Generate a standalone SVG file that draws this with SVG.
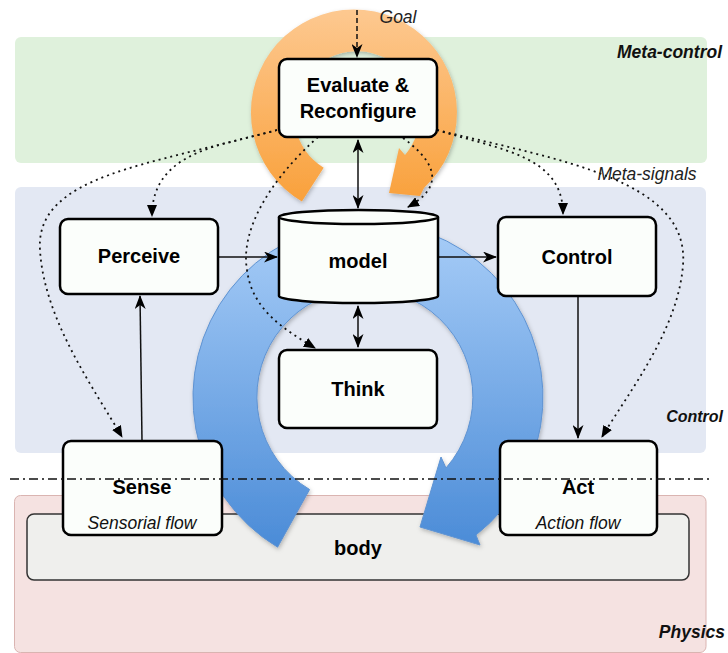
<svg xmlns="http://www.w3.org/2000/svg" width="728" height="653" viewBox="0 0 728 653">
<style>
.zone-label{font-family:"Liberation Sans",Arial,sans-serif;font-weight:bold;font-style:italic;fill:#111;text-anchor:end}
.node rect,.node path.cyl,.node ellipse{fill:#fbfefb;stroke:#000;stroke-width:2.5}
.lbl{font-family:"Liberation Sans",Arial,sans-serif;font-weight:bold;font-size:20px;fill:#000;text-anchor:middle}
.sub{font-family:"Liberation Sans",Arial,sans-serif;font-style:italic;font-size:17.5px;fill:#111;text-anchor:middle}
.solid{fill:none;stroke:#111;stroke-width:1.5}
.dotted{fill:none;stroke:#111;stroke-width:1.8;stroke-dasharray:2 4}
.dashed{fill:none;stroke:#111;stroke-width:1.5;stroke-dasharray:5 3}
.it{font-family:"Liberation Sans",Arial,sans-serif;font-style:italic;font-size:17.5px;fill:#222}
</style>
<defs>
<linearGradient id="gOrange" gradientUnits="userSpaceOnUse" x1="0" y1="12" x2="0" y2="205">
<stop offset="0" stop-color="#fdc88f"/>
<stop offset="1" stop-color="#f9a03a"/>
</linearGradient>
<linearGradient id="gBlue" gradientUnits="userSpaceOnUse" x1="0" y1="220" x2="0" y2="550">
<stop offset="0" stop-color="#a9cef8"/>
<stop offset="1" stop-color="#4a8bd7"/>
</linearGradient>
<filter id="shadow" x="-10%" y="-10%" width="120%" height="120%">
<feDropShadow dx="1" dy="2" stdDeviation="2" flood-color="#000" flood-opacity="0.25"/>
</filter>
<marker id="classic" viewBox="0 0 14 11" refX="13" refY="5.5" markerWidth="14" markerHeight="11" markerUnits="userSpaceOnUse" orient="auto-start-reverse">
<path d="M0,0 L14,5.5 L0,11 L4,5.5 Z" fill="#000"/>
</marker>
<marker id="block" viewBox="0 0 12 10" refX="11" refY="5" markerWidth="12" markerHeight="10" markerUnits="userSpaceOnUse" orient="auto">
<path d="M0,0 L12,5 L0,10 Z" fill="#000"/>
</marker>
</defs>
<rect x="0" y="0" width="728" height="653" fill="#fff"/>

<g id="zones">
<rect x="15" y="37" width="692" height="126" rx="6" fill="#dff1dc"/>
<rect x="15" y="187" width="691" height="266" rx="6" fill="#e3e8f3"/>
<rect x="14.5" y="495.5" width="691.5" height="157" rx="6" fill="#f5e2e1" stroke="#dab4b1" stroke-width="1"/>
<text class="zone-label" x="722" y="58" font-size="17.5">Meta-control</text>
<text class="zone-label" x="723" y="422" font-size="16">Control</text>
<text class="zone-label" x="725" y="638" font-size="17.5">Physics</text>
</g>

<g id="body" class="node">
<rect x="27" y="514" width="662" height="66" rx="7" style="fill:#efefed;stroke:#333;stroke-width:1.5"/>
<text class="lbl" x="358" y="555">body</text>
</g>

<g id="loops">
<path id="blue-loop" d="M277.6,547.2 A175,175 0 1 1 476,535 L480,545 L420,527 L441,457 L446,468 A108,108 0 1 0 309.6,489.5 Z" fill="url(#gBlue)" stroke="#5f93d2" stroke-width="1" filter="url(#shadow)"/>
<path id="orange-loop" d="M301.9,201.4 A103,103 0 1 1 424,188 L420,196 L389,193 L399,148 L405,155 A63,63 0 1 0 323.7,167.8 Z" fill="url(#gOrange)" filter="url(#shadow)"/>
</g>

<g id="connectors">
<path class="dashed" d="M357,10 L357,57" marker-end="url(#classic)"/>
<path class="solid" d="M358,140 L358,208" marker-start="url(#classic)" marker-end="url(#classic)"/>
<path class="solid" d="M358,306 L358,347" marker-start="url(#classic)" marker-end="url(#classic)"/>
<path class="solid" d="M218,257 L277,257" marker-end="url(#classic)"/>
<path class="solid" d="M438,257 L496,257" marker-end="url(#classic)"/>
<path class="solid" d="M142,441 L140,296" marker-end="url(#classic)"/>
<path class="solid" d="M578,296 L578,438" marker-end="url(#classic)"/>
<path class="dotted" d="M277,130 C225,145 152,150 152,216" marker-end="url(#block)"/>
<path class="dotted" d="M277,130 C150,165 35,175 40,250 C44,320 95,390 122,437" marker-end="url(#block)"/>
<path class="dotted" d="M318,137 C270,180 240,230 247,270 C252,310 285,330 315,348" marker-end="url(#block)"/>
<path class="dotted" d="M437,130 C500,150 563,155 563,214" marker-end="url(#block)"/>
<path class="dotted" d="M437,130 C560,160 690,180 683,265 C678,330 630,390 602,437" marker-end="url(#block)"/>
<path class="dotted" d="M403,138 C440,165 442,188 408,207" marker-end="url(#block)"/>
</g>

<g id="evaluate" class="node">
<rect x="279" y="59" width="158" height="78" rx="8"/>
<text class="lbl" x="358" y="92">Evaluate &amp;</text>
<text class="lbl" x="358" y="118">Reconfigure</text>
</g>
<g id="perceive" class="node">
<rect x="60" y="219" width="158" height="75" rx="8"/>
<text class="lbl" x="139" y="263">Perceive</text>
</g>
<g id="model" class="node">
<path class="cyl" d="M279,217 L279,296 A79.5,7 0 0 0 438,296 L438,217"/>
<ellipse cx="358.5" cy="217" rx="79.5" ry="7"/>
<text class="lbl" x="358" y="268">model</text>
</g>
<g id="control" class="node">
<rect x="498" y="217" width="158" height="79" rx="8"/>
<text class="lbl" x="577" y="264">Control</text>
</g>
<g id="think" class="node">
<rect x="279" y="350" width="158" height="78" rx="8"/>
<text class="lbl" x="358" y="396">Think</text>
</g>
<g id="sense" class="node">
<rect x="63" y="441" width="159" height="94" rx="8"/>
<text class="lbl" x="142" y="494">Sense</text>
<text class="sub" x="142" y="529">Sensorial flow</text>
</g>
<g id="act" class="node">
<rect x="500" y="441" width="157" height="94" rx="8"/>
<text class="lbl" x="578" y="494">Act</text>
<text class="sub" x="578" y="529">Action flow</text>
</g>

<path id="boundary" d="M10,479 L710,479" fill="none" stroke="#111" stroke-width="1.3" stroke-dasharray="9 4 2 4"/>

<g id="connector-labels">
<text class="it" x="398" y="23" text-anchor="middle">Goal</text>
<text class="it" x="647" y="180" text-anchor="middle">Meta-signals</text>
</g>
</svg>
